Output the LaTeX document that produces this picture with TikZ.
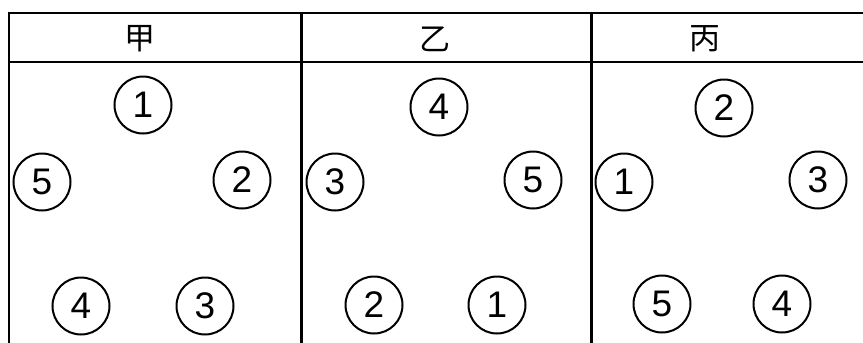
\documentclass[tikz,border=0pt]{standalone}
\usepackage{fontspec}
\setmainfont{Liberation Sans}
\newfontfamily\cjk{Noto Sans CJK SC}

\begin{document}
\begin{tikzpicture}[x=1pt, y=-1pt,
    ball/.style={draw, circle, line width=2pt, minimum size=57pt, inner sep=0pt,
                 font=\fontsize{37}{37}\selectfont},
    head/.style={font=\cjk\fontsize{31}{31}\selectfont}]
    \useasboundingbox (0,0) rectangle (863,343);

    % Bảng
    \draw[line width=2.8pt] (9,343) -- (9,13) -- (863,13);
    \draw[line width=2.8pt] (9,62) -- (863,62);
    \draw[line width=2.8pt] (301.5,13) -- (301.5,343);
    \draw[line width=2.8pt] (591.5,13) -- (591.5,343);

    % 甲
    \node[head] (jia) at (140,39) {甲};
    \node[ball] (jia1) at (143,105) {1};
    \node[ball] (jia5) at (42,182) {5};
    \node[ball] (jia2) at (242,180) {2};
    \node[ball] (jia4) at (81,306) {4};
    \node[ball] (jia3) at (205,306) {3};

    % 乙
    \node[head] (yi) at (435,39) {乙};
    \node[ball] (yi4) at (439,107) {4};
    \node[ball] (yi3) at (335,182) {3};
    \node[ball] (yi5) at (533,180) {5};
    \node[ball] (yi2) at (374,305) {2};
    \node[ball] (yi1) at (497,305) {1};

    % 丙
    \node[head] (bing) at (705,39) {丙};
    \node[ball] (bing2) at (724,108) {2};
    \node[ball] (bing1) at (624,182) {1};
    \node[ball] (bing3) at (818,180) {3};
    \node[ball] (bing5) at (662,304) {5};
    \node[ball] (bing4) at (782,304) {4};
\end{tikzpicture}
\end{document}
